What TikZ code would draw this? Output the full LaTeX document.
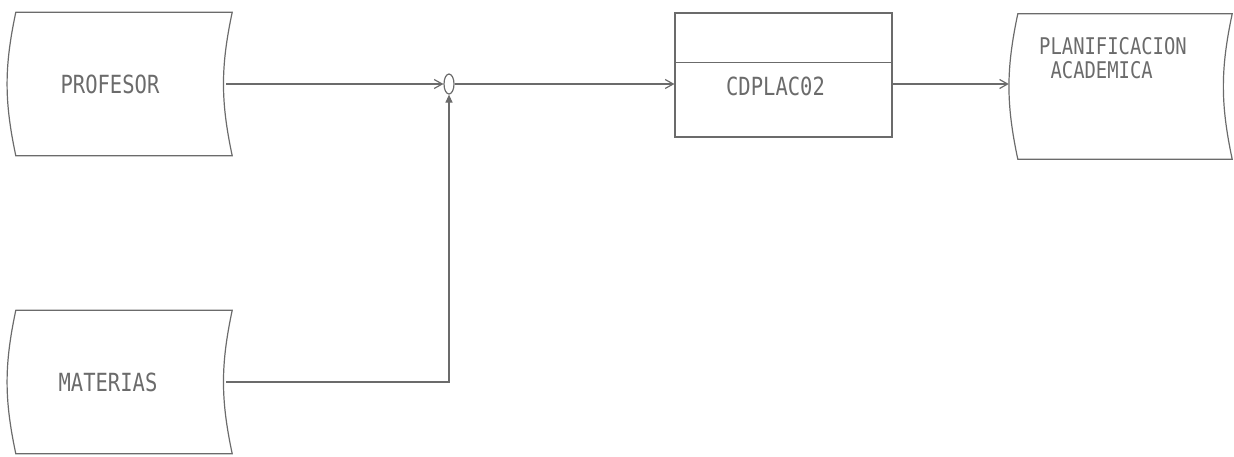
\documentclass[tikz,border=0pt]{standalone}
\usepackage{fontspec}
\setmonofont{DejaVu Sans Mono}[FakeStretch=0.82]
\usetikzlibrary{arrows.meta,positioning,shapes.geometric}
\definecolor{ink}{gray}{0.42}

\begin{document}
\begin{tikzpicture}[x=1pt,y=-1pt,
  lbl/.style={text=ink, font=\fontsize{25}{25}\selectfont\ttfamily, inner sep=0pt},
  store/.style={minimum width=216pt, minimum height=143pt, inner sep=0pt},
  outline/.style={ink, line width=1.2pt},
  procbox/.style={draw=ink, line width=1.2pt, minimum width=217pt, minimum height=124pt, inner sep=0pt},
  flow/.style={ink, line width=1.2pt, -{Straight Barb[length=8pt,width=9pt]}},
  flowup/.style={ink, line width=1.2pt, -{Triangle[length=8pt,width=7pt]}},
  junct/.style={draw=ink, line width=1.2pt, ellipse, minimum width=10pt, minimum height=20pt, inner sep=0pt}
]
\useasboundingbox (0,0) rectangle (1234,456);
% data stores
\node[store, label={[lbl,xshift=-14pt]center:PROFESOR}] (prof) at (124,84) {};
\node[store, label={[lbl,xshift=-16pt]center:MATERIAS}] (mat) at (124,382) {};
\node[store, minimum width=214pt, minimum height=145pt] (plan) at (1125,86.5) {};
\node[lbl, font=\fontsize{23}{24}\selectfont\ttfamily, align=left, below=23pt of plan.north, xshift=-12pt] (plantitle)
  {PLANIFICACION\\\phantom{A}ACADEMICA};
\foreach \n in {prof,mat,plan}{
  \draw[outline] (\n.north west) to[bend right=12] (\n.south west) -- (\n.south east)
    to[bend left=12] (\n.north east) -- cycle;
}
% process
\node[procbox] (proc) at (783.5,75) {};
\draw[outline] ([yshift=-50pt]proc.north west) -- ([yshift=-50pt]proc.north east);
\node[lbl] (proctxt) at ([xshift=-8pt,yshift=-11pt]proc.center) {CDPLAC02};
% flows
\node[junct] (junc) at (449,84) {};
\draw[flow] ([xshift=-6pt]prof.east) -- (junc.west);
\draw[flowup] ([xshift=-6pt]mat.east) -| (junc.south);
\draw[flow] (junc.east) -- (junc.east -| proc.west);
\draw[flow] (junc -| proc.east) -- ([xshift=-9pt]junc -| plan.west);
\end{tikzpicture}
\end{document}
